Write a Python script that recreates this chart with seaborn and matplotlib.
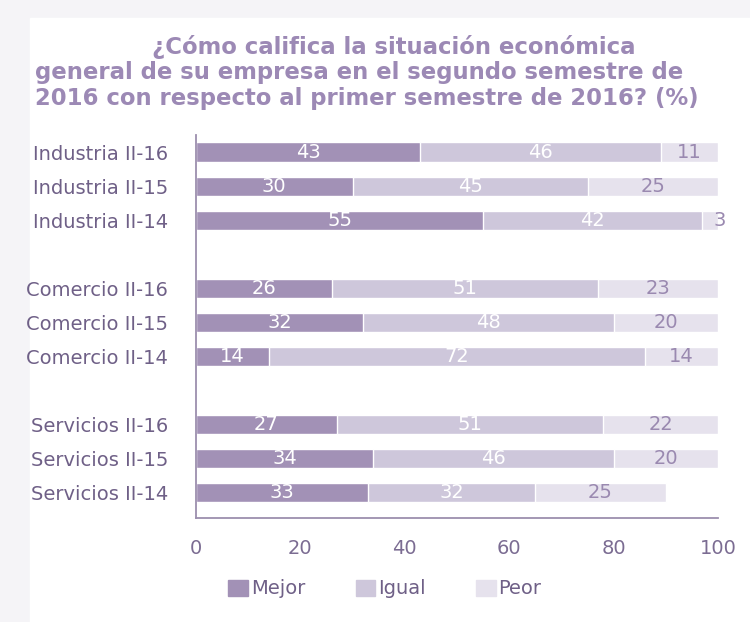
import pandas as pd
import seaborn as sns
import matplotlib.pyplot as plt
from matplotlib.patches import Rectangle, Patch

# data
rows = ["Industria II-16", "Industria II-15", "Industria II-14",
        "Comercio II-16", "Comercio II-15", "Comercio II-14",
        "Servicios II-16", "Servicios II-15", "Servicios II-14"]
mejor = [43, 30, 55, 26, 32, 14, 27, 34, 33]
igual = [46, 45, 42, 51, 48, 72, 51, 46, 32]
peor = [11, 25, 3, 23, 20, 14, 22, 20, 25]

# blank categories give the gaps between sectors
order = rows[:3] + [" "] + rows[3:6] + ["  "] + rows[6:]

c_mejor = "#a291b6"
c_igual = "#cec7db"
c_peor = "#e6e2ed"
c_text = "#6f6087"
c_title = "#9c89b5"

df = pd.DataFrame({"fila": rows, "Mejor": mejor, "Igual": igual, "Peor": peor})
df["c2"] = df["Mejor"] + df["Igual"]
df["c3"] = df["c2"] + df["Peor"]

sns.set_style("white")
plt.rcParams["font.family"] = ["DejaVu Sans"]

fig = plt.figure(figsize=(7.5, 6.22), dpi=100)
fig.patches.append(Rectangle((0, 0), 1, 1, transform=fig.transFigure,
                             color="#f5f4f7", zorder=-10))
fig.patches.append(Rectangle((30 / 750, 0), 1, 1 - 18 / 622, transform=fig.transFigure,
                             color="white", zorder=-9))

ax = fig.add_axes([196 / 750, 104 / 622, 522 / 750, 383 / 622])
ax.set_facecolor("none")

w = 0.56
sns.barplot(data=df, x="c3", y="fila", order=order, color=c_peor, width=w,
            saturation=1, ax=ax)
sns.barplot(data=df, x="c2", y="fila", order=order, color=c_igual, width=w,
            saturation=1, ax=ax)
sns.barplot(data=df, x="Mejor", y="fila", order=order, color=c_mejor, width=w,
            saturation=1, ax=ax)

# value labels
for i, r in df.iterrows():
    y = order.index(r["fila"])
    ax.text(r["Mejor"] / 2, y, str(r["Mejor"]), color="white", ha="center",
            va="center", fontsize=14)
    ax.text(r["Mejor"] + r["Igual"] / 2, y, str(r["Igual"]), color="white",
            ha="center", va="center", fontsize=14)
    px = r["c2"] + r["Peor"] / 2
    if r["Peor"] < 5:
        px = r["c2"] + r["Peor"] + 0.3
    ax.text(px, y, str(r["Peor"]), color="#9a89b0", ha="center",
            va="center", fontsize=14)

ax.set_xlim(0, 100)
ax.set_ylim(10.735, -0.5)
ax.set_xticks([0, 20, 40, 60, 80, 100])
ax.set_xlabel("")
ax.set_ylabel("")
ax.tick_params(axis="x", colors="#7b6c92", labelsize=14, length=0, pad=15)
ax.tick_params(axis="y", colors=c_text, labelsize=14, length=0, pad=20)
for s in ["top", "right"]:
    ax.spines[s].set_visible(False)
for s in ["left", "bottom"]:
    ax.spines[s].set_color("#9c8fae")
    ax.spines[s].set_linewidth(1.3)

# title
fig.text(152 / 750, 1 - 47 / 622, "¿Cómo califica la situación económica",
         color=c_title, fontsize=16.4, fontweight="bold", va="center", ha="left")
fig.text(35 / 750, 1 - 73 / 622, "general de su empresa en el segundo semestre de",
         color=c_title, fontsize=16.4, fontweight="bold", va="center", ha="left")
fig.text(35 / 750, 1 - 98 / 622, "2016 con respecto al primer semestre de 2016? (%)",
         color=c_title, fontsize=16.4, fontweight="bold", va="center", ha="left")

handles = [Patch(color=c_mejor), Patch(color=c_igual), Patch(color=c_peor)]
fig.legend(handles, ["Mejor", "Igual", "Peor"], loc="center",
           bbox_to_anchor=(385 / 750, 1 - 589 / 622), ncol=3, frameon=False,
           fontsize=14, handlelength=1.0, handleheight=0.9, handletextpad=0.15,
           columnspacing=2.6, labelcolor=c_text)

fig.savefig("out.png", dpi=100)
